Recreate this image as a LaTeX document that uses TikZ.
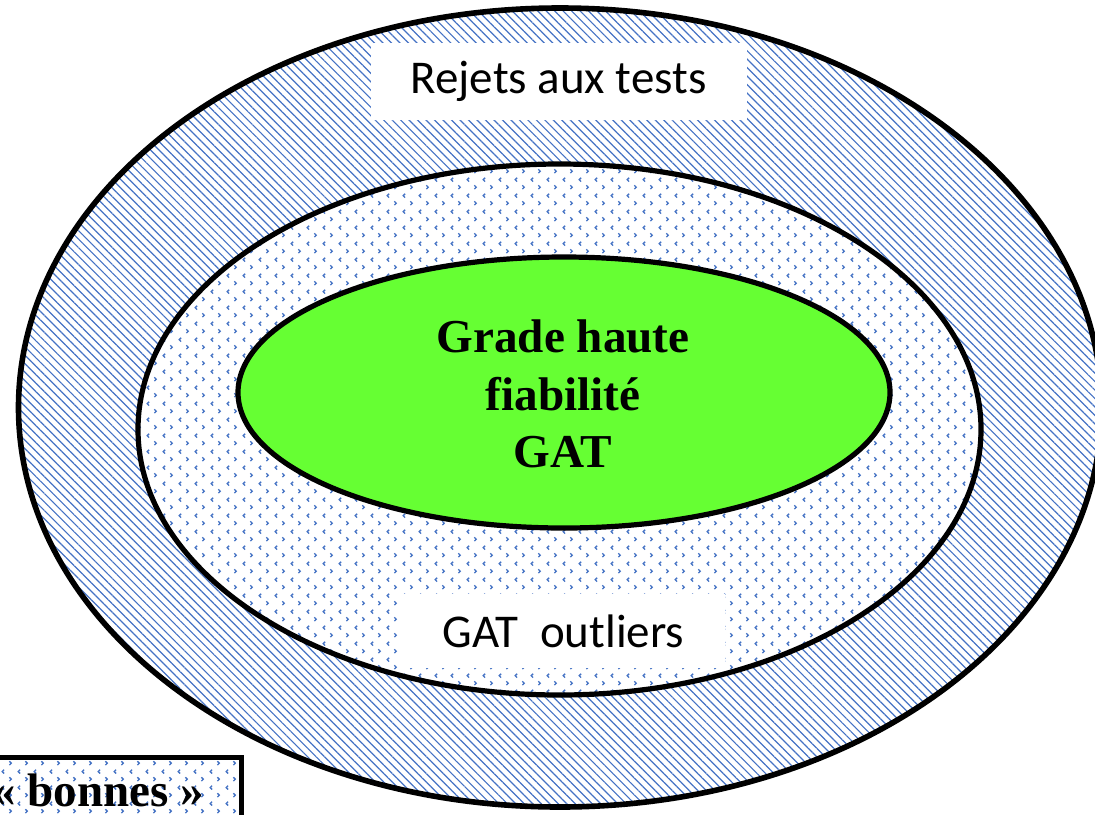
\documentclass[tikz,border=0pt]{standalone}
\usepackage{fontspec}
\setmainfont{Liberation Serif}
\newfontfamily\calibrifont{Carlito}
\usepackage{xcolor}
\usetikzlibrary{shapes.geometric, patterns.meta}
\definecolor{colHatch}{RGB}{68,114,196}
\definecolor{colGrade}{RGB}{102,255,51}

% small < > marks, used for the outliers ring and the legend box
\tikzdeclarepattern{
  name=divots,
  type=uncolored,
  bounding box={(0pt,0pt) and (8pt,8pt)},
  tile size={(8pt,8pt)},
  code={
    \draw[line width=0.7pt] (2.7pt,7pt) -- (1.7pt,6pt) -- (2.7pt,5pt);
    \draw[line width=0.7pt] (5.5pt,3pt) -- (6.5pt,2pt) -- (5.5pt,1pt);
  }
}

\begin{document}
\begin{tikzpicture}[
  x=0.5pt, y=-0.5pt,
  zone/.style={ellipse, draw, line width=2.6pt, inner sep=0pt},
  tag/.style={rectangle, fill=white, inner sep=0pt,
              font=\calibrifont\fontsize{23.5}{28}\selectfont},
  grade/.style={align=center, inner sep=0pt,
                font=\bfseries\fontsize{23.6}{28.75}\selectfont},
]
\useasboundingbox (0,0) rectangle (1095,814);

% nested zones
\node[zone, line width=2.8pt, minimum width=541.5pt, minimum height=399.5pt,
      pattern={Lines[angle=-45,distance=3pt,line width=0.6pt]},
      pattern color=colHatch] (rejets) at (560,407.5) {};
\node[zone, minimum width=421.5pt, minimum height=265.5pt,
      preaction={fill=white}, pattern=divots, pattern color=colHatch] (outliers) at (559.5,429.5) {};
\node[zone, minimum width=326pt, minimum height=135.5pt, fill=colGrade] (gat) at (564,392.5) {};

% labels
\node[grade] (gatlabel) at (563,394) {Grade haute\\fiabilité\\GAT};
\node[tag, minimum width=188pt, minimum height=38.5pt] (rejetslabel) at (558.5,81.5) {Rejets aux tests};
\node[tag, minimum width=161.5pt, minimum height=37pt] (outlierslabel) at (563.5,631) {GAT~~outliers};

% legend box, runs off the page
\node[rectangle, draw, line width=2.4pt, anchor=north east,
      minimum width=137pt, minimum height=57.5pt,
      preaction={fill=white}, pattern=divots, pattern color=colHatch] (bonnesbox) at (244,755) {};
\node[anchor=base west, inner sep=0pt,
      font=\bfseries\fontsize{23.5}{28}\selectfont] (bonnes) at (-8,806) {«~bonnes~»};
\end{tikzpicture}
\end{document}
